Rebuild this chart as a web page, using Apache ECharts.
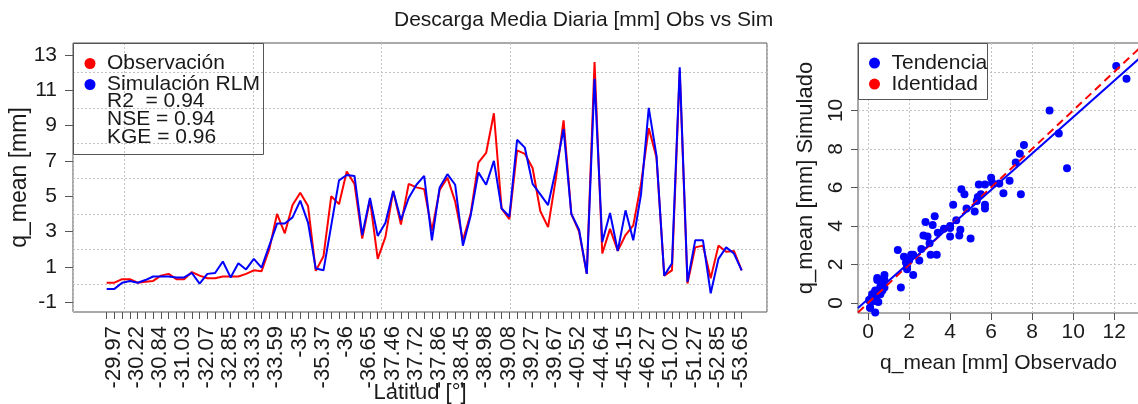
<!DOCTYPE html>
<html>
<head>
<meta charset="utf-8">
<script src="https://cdn.jsdelivr.net/npm/echarts@6/dist/echarts.min.js"></script>
<style>
  html, body { margin: 0; padding: 0; background: #ffffff; }
  #chart { width: 1138px; height: 404px; }
</style>
</head>
<body>
<div id="chart"></div>
<script>
// Latitude labels written under every third station
const latLabels = ['-29.97', '-30.22', '-30.84', '-31.03', '-32.07', '-32.85', '-33.33', '-33.59',
  '-35', '-35.37', '-36', '-36.65', '-37.46', '-37.72', '-37.86', '-38.45', '-38.98', '-39.08',
  '-39.27', '-39.67', '-40.52', '-44.64', '-45.15', '-46.27', '-51.02', '-51.27', '-52.85', '-53.65'];

// Mean daily discharge per station [mm], ordered north to south
const observed = [
  0.1, 0.1, 0.3, 0.3, 0.1, 0.15, 0.2, 0.5, 0.6, 0.3,
  0.3, 0.7, 0.5, 0.35, 0.35, 0.45, 0.45, 0.45, 0.6, 0.8,
  0.75, 2.0, 4.0, 2.9, 4.5, 5.2, 4.45, 0.77, 1.6, 5.0,
  4.55, 6.4, 5.7, 2.6, 4.8, 1.45, 2.7, 5.3, 3.4, 5.7,
  5.5, 5.4, 3.05, 5.35, 6.05, 4.7, 2.5, 4.0, 6.9, 7.45,
  9.7, 4.3, 3.7, 7.6, 7.4, 6.6, 4.15, 3.25, 6.0, 9.3,
  4.0, 3.0, 0.6, 12.6, 1.75, 3.15, 1.9, 2.8, 3.35, 5.7,
  8.85, 7.2, 0.5, 0.8, 12.1, 0.05, 2.1, 2.2, 0.35, 2.2,
  1.85, 1.9, 0.8
];
const simulated = [
  -0.25, -0.25, 0.1, 0.2, 0.1, 0.25, 0.45, 0.45, 0.45, 0.4,
  0.4, 0.65, 0.05, 0.6, 0.65, 1.3, 0.4, 1.2, 0.85, 1.45,
  0.95, 2.2, 3.45, 3.45, 3.8, 4.75, 3.5, 0.9, 0.8, 3.35,
  5.9, 6.2, 6.15, 2.8, 4.9, 2.75, 3.5, 5.3, 3.65, 4.9,
  5.65, 6.15, 2.5, 5.5, 6.25, 5.65, 2.2, 3.9, 6.35, 5.65,
  7.0, 4.3, 3.85, 8.2, 7.75, 5.7, 5.1, 4.5, 6.5, 8.8,
  4.0, 3.1, 0.6, 11.65, 2.4, 4.05, 1.9, 4.2, 2.5, 5.1,
  10.0, 7.3, 0.5, 1.2, 12.3, 0.15, 2.5, 2.5, -0.5, 1.45,
  2.1, 1.75, 0.8
];

// Goodness-of-fit figures shown in the legend
const statLines = ['R2  = 0.94', 'NSE = 0.94', 'KGE = 0.96'];

// Axis tick / grid values
const seriesTickValues = [-1, 1, 3, 5, 7, 9, 11, 13];
const seriesGridValues = [0, 2, 4, 6, 8, 10, 12];
const scatterXTicks = [0, 2, 4, 6, 8, 10, 12];
const scatterYTicks = [0, 2, 4, 6, 8, 10];
const scatterGridValues = [0, 2, 4, 6, 8, 10, 12];

const FONT = 'Liberation Sans, Arial, Helvetica, sans-serif';
const TEXT = '#1a1a1a';
const FRAME = '#555555';
const gridLine = () => ({ show: true, lineStyle: { color: '#c2c2c2', width: 1, type: [2, 2] } });

const stationIdx = observed.map((_, i) => i);
const labelIdx = latLabels.map((_, k) => k * 3);

// Scatter axis extents
const sxMin = -0.49, sxMax = 13.21;
const syMin = -0.52, syMax = 13.5;

// Least-squares trend of simulated on observed
const n = observed.length;
const mx = observed.reduce((a, b) => a + b, 0) / n;
const my = simulated.reduce((a, b) => a + b, 0) / n;
let sxy = 0, sxx = 0;
for (let i = 0; i < n; i++) {
  sxy += (observed[i] - mx) * (simulated[i] - my);
  sxx += (observed[i] - mx) * (observed[i] - mx);
}
const slope = sxy / sxx;
const intercept = my - slope * mx;

const hiddenLine = { show: false, onZero: false };

const chart = echarts.init(document.getElementById('chart'), null, { renderer: 'canvas' });

chart.setOption({
  animation: false,
  backgroundColor: '#ffffff',
  textStyle: { fontFamily: FONT, color: TEXT },
  title: {
    text: 'Descarga Media Diaria [mm] Obs vs Sim',
    left: 389,
    top: 5,
    textStyle: { fontFamily: FONT, fontSize: 21, fontWeight: 'normal', color: TEXT }
  },
  grid: [
    { left: 73, top: 43, width: 694, height: 269, show: true, borderColor: FRAME, borderWidth: 1,
      backgroundColor: 'transparent', containLabel: false, outerBoundsMode: 'none' },
    { left: 858, top: 43, width: 281, height: 270, show: true, borderColor: FRAME, borderWidth: 1,
      backgroundColor: 'transparent', containLabel: false, outerBoundsMode: 'none' }
  ],
  xAxis: [
    {
      type: 'value', gridIndex: 0, min: -4.35, max: 85.27, position: 'bottom',
      axisLine: hiddenLine,
      axisTick: { show: true, length: 7, customValues: stationIdx, lineStyle: { color: FRAME } },
      axisLabel: {
        customValues: labelIdx, rotate: 90, margin: 14, fontSize: 22, color: TEXT, fontFamily: FONT,
        verticalAlign: 'top', lineHeight: 14,
        formatter: v => latLabels[Math.round(v / 3)]
      },
      splitLine: { show: false },
      name: 'Latitud [°]', nameLocation: 'middle', nameGap: 70, nameMoveOverlap: false,
      nameTextStyle: { fontSize: 22, color: TEXT, fontFamily: FONT }
    },
    {
      type: 'value', gridIndex: 0, inverse: true, min: 0, max: 5.4, interval: 1, position: 'top',
      axisLine: hiddenLine, axisLabel: { show: false }, axisTick: { show: false },
      splitLine: gridLine()
    },
    {
      type: 'value', gridIndex: 1, min: sxMin, max: sxMax, position: 'bottom',
      axisLine: hiddenLine,
      axisTick: { show: true, length: 7, customValues: scatterXTicks, lineStyle: { color: FRAME } },
      axisLabel: { customValues: scatterXTicks, margin: 9, fontSize: 21, color: TEXT, fontFamily: FONT },
      splitLine: gridLine(),
      name: 'q_mean [mm] Observado', nameLocation: 'middle', nameGap: 40, nameMoveOverlap: false,
      nameTextStyle: { fontSize: 21, color: TEXT, fontFamily: FONT }
    }
  ],
  yAxis: [
    {
      type: 'value', gridIndex: 0, min: -1.56, max: 13.68, position: 'left',
      axisLine: hiddenLine,
      axisTick: { show: true, length: 8, customValues: seriesTickValues, lineStyle: { color: FRAME } },
      axisLabel: { customValues: seriesTickValues, margin: 16, fontSize: 21, color: TEXT, fontFamily: FONT },
      splitLine: { show: false },
      name: 'q_mean [mm]', nameLocation: 'middle', nameGap: 42, nameRotate: 90, nameMoveOverlap: false,
      nameTextStyle: { fontSize: 23, color: TEXT, fontFamily: FONT }
    },
    {
      type: 'value', gridIndex: 0, min: -1.56, max: 13.68, position: 'right',
      axisLine: hiddenLine, axisLabel: { show: false },
      axisTick: { show: false, customValues: seriesGridValues },
      splitLine: gridLine()
    },
    {
      type: 'value', gridIndex: 1, min: syMin, max: syMax, position: 'left',
      axisLine: hiddenLine,
      axisTick: { show: true, length: 7, customValues: scatterYTicks, lineStyle: { color: FRAME } },
      axisLabel: {
        customValues: scatterYTicks, rotate: 90, margin: 11, fontSize: 21, color: TEXT, fontFamily: FONT,
        align: 'center', verticalAlign: 'bottom'
      },
      splitLine: { show: false },
      name: 'q_mean [mm] Simulado', nameLocation: 'middle', nameGap: 41, nameRotate: 90, nameMoveOverlap: false,
      nameTextStyle: { fontSize: 22, color: TEXT, fontFamily: FONT }
    },
    {
      type: 'value', gridIndex: 1, min: syMin, max: syMax, position: 'right',
      axisLine: hiddenLine, axisLabel: { show: false },
      axisTick: { show: false, customValues: scatterGridValues },
      splitLine: gridLine()
    }
  ],
  legend: [
    {
      data: ['Observación', 'Simulación RLM'],
      orient: 'vertical', left: 84.5, top: 53, itemGap: 0, padding: 0,
      itemWidth: 24, itemHeight: 11, icon: 'circle', selectedMode: false, z: 10,
      textStyle: { fontSize: 21, lineHeight: 19.6, color: TEXT, fontFamily: FONT }
    },
    {
      data: ['Tendencia', 'Identidad'],
      orient: 'vertical', left: 869, top: 52.6, itemGap: 0, padding: 0,
      itemWidth: 24, itemHeight: 11, icon: 'circle', selectedMode: false, z: 10,
      textStyle: { fontSize: 21, lineHeight: 19.4, color: TEXT, fontFamily: FONT }
    }
  ],
  graphic: [
    { type: 'rect', z: 3, shape: { x: 73.5, y: 43.5, width: 190, height: 111 }, style: { fill: 'none', stroke: FRAME, lineWidth: 1 } },
    { type: 'rect', z: 3, shape: { x: 858.5, y: 43.5, width: 129, height: 56 }, style: { fill: '#ffffff', stroke: FRAME, lineWidth: 1 } }
  ].concat(statLines.map((t, k) => ({
    type: 'text', z: 10, x: 107, y: 100.9 + k * 18.4,
    style: { text: t, font: '21px ' + FONT, fill: TEXT, verticalAlign: 'middle', align: 'left' }
  }))),
  series: [
    {
      name: 'Observación', type: 'line', xAxisIndex: 0, yAxisIndex: 0,
      data: observed.map((v, i) => [i, v]),
      symbol: 'none', z: 2,
      itemStyle: { color: '#ff0000' },
      lineStyle: { color: '#ff0000', width: 2 }
    },
    {
      name: 'Simulación RLM', type: 'line', xAxisIndex: 0, yAxisIndex: 0,
      data: simulated.map((v, i) => [i, v]),
      symbol: 'none', z: 3,
      itemStyle: { color: '#0000ff' },
      lineStyle: { color: '#0000ff', width: 2 }
    },
    {
      name: 'Estaciones', type: 'scatter', xAxisIndex: 2, yAxisIndex: 2,
      data: observed.map((v, i) => [v, simulated[i]]),
      symbolSize: 8, z: 2,
      itemStyle: { color: '#0000ff', opacity: 1 }
    },
    {
      name: 'Identidad', type: 'line', xAxisIndex: 2, yAxisIndex: 2,
      data: [[sxMin, sxMin], [sxMax, sxMax]],
      symbol: 'none', z: 3, clip: true,
      itemStyle: { color: '#ff0000' },
      lineStyle: { color: '#ff0000', width: 2, type: [8, 5] }
    },
    {
      name: 'Tendencia', type: 'line', xAxisIndex: 2, yAxisIndex: 2,
      data: [[sxMin, intercept + slope * sxMin], [sxMax, intercept + slope * sxMax]],
      symbol: 'none', z: 4, clip: true,
      itemStyle: { color: '#0000ff' },
      lineStyle: { color: '#0000ff', width: 2 }
    }
  ]
});
</script>
</body>
</html>
